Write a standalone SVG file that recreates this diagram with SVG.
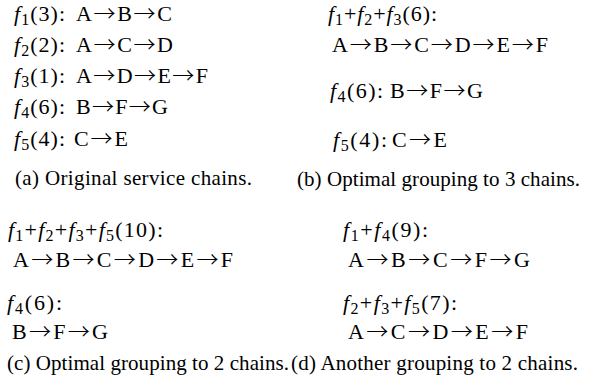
<svg xmlns="http://www.w3.org/2000/svg" width="592" height="379" viewBox="0 0 592 379">
<style>
text{font-family:"Liberation Serif","Times New Roman",serif;font-size:22px;fill:#000}
.c{font-size:21px}
.i{font-style:italic}
.s{font-size:16px}
.a{font-family:"Noto Sans CJK JP","DejaVu Sans",sans-serif;font-weight:300;font-size:22px}
</style>
<rect width="592" height="379" fill="#fff"/>
<g id="panel-a">
<text x="14" y="21" textLength="51" lengthAdjust="spacing"><tspan class="i">f</tspan><tspan class="s" dy="4">1</tspan><tspan dy="-4">(3):</tspan></text>
<text x="76" y="21" textLength="96" lengthAdjust="spacing">A<tspan class="a">→</tspan>B<tspan class="a">→</tspan>C</text>
<text x="14" y="52" textLength="51" lengthAdjust="spacing"><tspan class="i">f</tspan><tspan class="s" dy="4">2</tspan><tspan dy="-4">(2):</tspan></text>
<text x="76" y="52" textLength="97" lengthAdjust="spacing">A<tspan class="a">→</tspan>C<tspan class="a">→</tspan>D</text>
<text x="14" y="83" textLength="51" lengthAdjust="spacing"><tspan class="i">f</tspan><tspan class="s" dy="4">3</tspan><tspan dy="-4">(1):</tspan></text>
<text x="76" y="83" textLength="132" lengthAdjust="spacing">A<tspan class="a">→</tspan>D<tspan class="a">→</tspan>E<tspan class="a">→</tspan>F</text>
<text x="14" y="114" textLength="51" lengthAdjust="spacing"><tspan class="i">f</tspan><tspan class="s" dy="4">4</tspan><tspan dy="-4">(6):</tspan></text>
<text x="76" y="114" textLength="92" lengthAdjust="spacing">B<tspan class="a">→</tspan>F<tspan class="a">→</tspan>G</text>
<text x="14" y="146" textLength="51" lengthAdjust="spacing"><tspan class="i">f</tspan><tspan class="s" dy="4">5</tspan><tspan dy="-4">(4):</tspan></text>
<text x="74" y="146" textLength="54" lengthAdjust="spacing">C<tspan class="a">→</tspan>E</text>
<text class="c" x="15" y="185" textLength="237" lengthAdjust="spacing">(a) Original service chains.</text>
</g>
<g id="panel-b">
<text x="328" y="21" textLength="109" lengthAdjust="spacing"><tspan class="i">f</tspan><tspan class="s" dy="4">1</tspan><tspan dy="-4">+</tspan><tspan class="i">f</tspan><tspan class="s" dy="4">2</tspan><tspan dy="-4">+</tspan><tspan class="i">f</tspan><tspan class="s" dy="4">3</tspan><tspan dy="-4">(6):</tspan></text>
<text x="332" y="52" textLength="216" lengthAdjust="spacing">A<tspan class="a">→</tspan>B<tspan class="a">→</tspan>C<tspan class="a">→</tspan>D<tspan class="a">→</tspan>E<tspan class="a">→</tspan>F</text>
<text x="330" y="98" textLength="53" lengthAdjust="spacing"><tspan class="i">f</tspan><tspan class="s" dy="4">4</tspan><tspan dy="-4">(6):</tspan></text>
<text x="390" y="98" textLength="93" lengthAdjust="spacing">B<tspan class="a">→</tspan>F<tspan class="a">→</tspan>G</text>
<text x="333" y="147" textLength="54" lengthAdjust="spacing"><tspan class="i">f</tspan><tspan class="s" dy="4">5</tspan><tspan dy="-4">(4):</tspan></text>
<text x="392" y="147" textLength="55" lengthAdjust="spacing">C<tspan class="a">→</tspan>E</text>
<text class="c" x="297" y="186" textLength="283" lengthAdjust="spacing">(b) Optimal grouping to 3 chains.</text>
</g>
<g id="panel-c">
<text x="8" y="237" textLength="155" lengthAdjust="spacing"><tspan class="i">f</tspan><tspan class="s" dy="4">1</tspan><tspan dy="-4">+</tspan><tspan class="i">f</tspan><tspan class="s" dy="4">2</tspan><tspan dy="-4">+</tspan><tspan class="i">f</tspan><tspan class="s" dy="4">3</tspan><tspan dy="-4">+</tspan><tspan class="i">f</tspan><tspan class="s" dy="4">5</tspan><tspan dy="-4">(10):</tspan></text>
<text x="13" y="267" textLength="220" lengthAdjust="spacing">A<tspan class="a">→</tspan>B<tspan class="a">→</tspan>C<tspan class="a">→</tspan>D<tspan class="a">→</tspan>E<tspan class="a">→</tspan>F</text>
<text x="7" y="310" textLength="55" lengthAdjust="spacing"><tspan class="i">f</tspan><tspan class="s" dy="4">4</tspan><tspan dy="-4">(6):</tspan></text>
<text x="12" y="339" textLength="96" lengthAdjust="spacing">B<tspan class="a">→</tspan>F<tspan class="a">→</tspan>G</text>
<text class="c" x="7" y="370" textLength="282" lengthAdjust="spacing">(c) Optimal grouping to 2 chains.</text>
</g>
<g id="panel-d">
<text x="343" y="237" textLength="85" lengthAdjust="spacing"><tspan class="i">f</tspan><tspan class="s" dy="4">1</tspan><tspan dy="-4">+</tspan><tspan class="i">f</tspan><tspan class="s" dy="4">4</tspan><tspan dy="-4">(9):</tspan></text>
<text x="348" y="267" textLength="182" lengthAdjust="spacing">A<tspan class="a">→</tspan>B<tspan class="a">→</tspan>C<tspan class="a">→</tspan>F<tspan class="a">→</tspan>G</text>
<text x="343" y="310" textLength="114" lengthAdjust="spacing"><tspan class="i">f</tspan><tspan class="s" dy="4">2</tspan><tspan dy="-4">+</tspan><tspan class="i">f</tspan><tspan class="s" dy="4">3</tspan><tspan dy="-4">+</tspan><tspan class="i">f</tspan><tspan class="s" dy="4">5</tspan><tspan dy="-4">(7):</tspan></text>
<text x="348" y="339" textLength="180" lengthAdjust="spacing">A<tspan class="a">→</tspan>C<tspan class="a">→</tspan>D<tspan class="a">→</tspan>E<tspan class="a">→</tspan>F</text>
<text class="c" x="291" y="370" textLength="287" lengthAdjust="spacing">(d) Another grouping to 2 chains.</text>
</g>
</svg>
